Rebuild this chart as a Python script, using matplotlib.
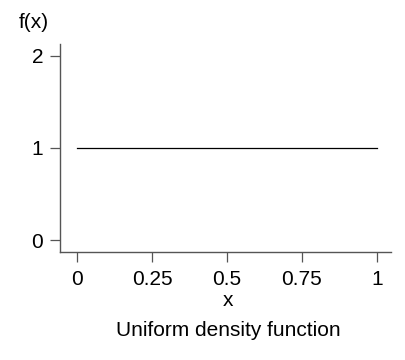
import matplotlib
matplotlib.use('Agg')
import matplotlib.pyplot as plt

plt.rcParams['font.family'] = ['Liberation Sans', 'DejaVu Sans']
plt.rcParams['font.size'] = 15

# uniform density on [0, 1]
x_line = [0, 1]
f_line = [1, 1]
x_ticks = [0, 0.25, 0.5, 0.75, 1]
x_labels = ['0', '0.25', '0.5', '0.75', '1']
y_ticks = [0, 1, 2]

fig = plt.figure(figsize=(4.06, 3.6), dpi=100)
ax = fig.add_axes([60/406, 1 - 252/360, (391 - 60)/406, (252 - 44)/360])

ax.plot(x_line, f_line, color='black', lw=0.9)

ax.set_xlim(-0.057, 1.047)
ax.set_ylim(-0.13, 2.13)
ax.set_xticks(x_ticks)
ax.set_xticklabels(x_labels)
ax.set_yticks(y_ticks)

for s in ['top', 'right']:
    ax.spines[s].set_visible(False)
for s in ['left', 'bottom']:
    ax.spines[s].set_color('#555555')
    ax.spines[s].set_linewidth(1.0)

ax.tick_params(axis='both', direction='out', length=7, width=0.9, color='#555555')
ax.tick_params(axis='y', pad=5)
ax.tick_params(axis='x', pad=6)

fig.text(34/406, 1 - 22/360, 'f(x)', ha='center', va='center')
fig.text(228/406, 1 - 301/360, 'x', ha='center', va='center')
fig.text(228/406, 1 - 330/360, 'Uniform density function', ha='center', va='center')

fig.savefig('out.png', dpi=100)
